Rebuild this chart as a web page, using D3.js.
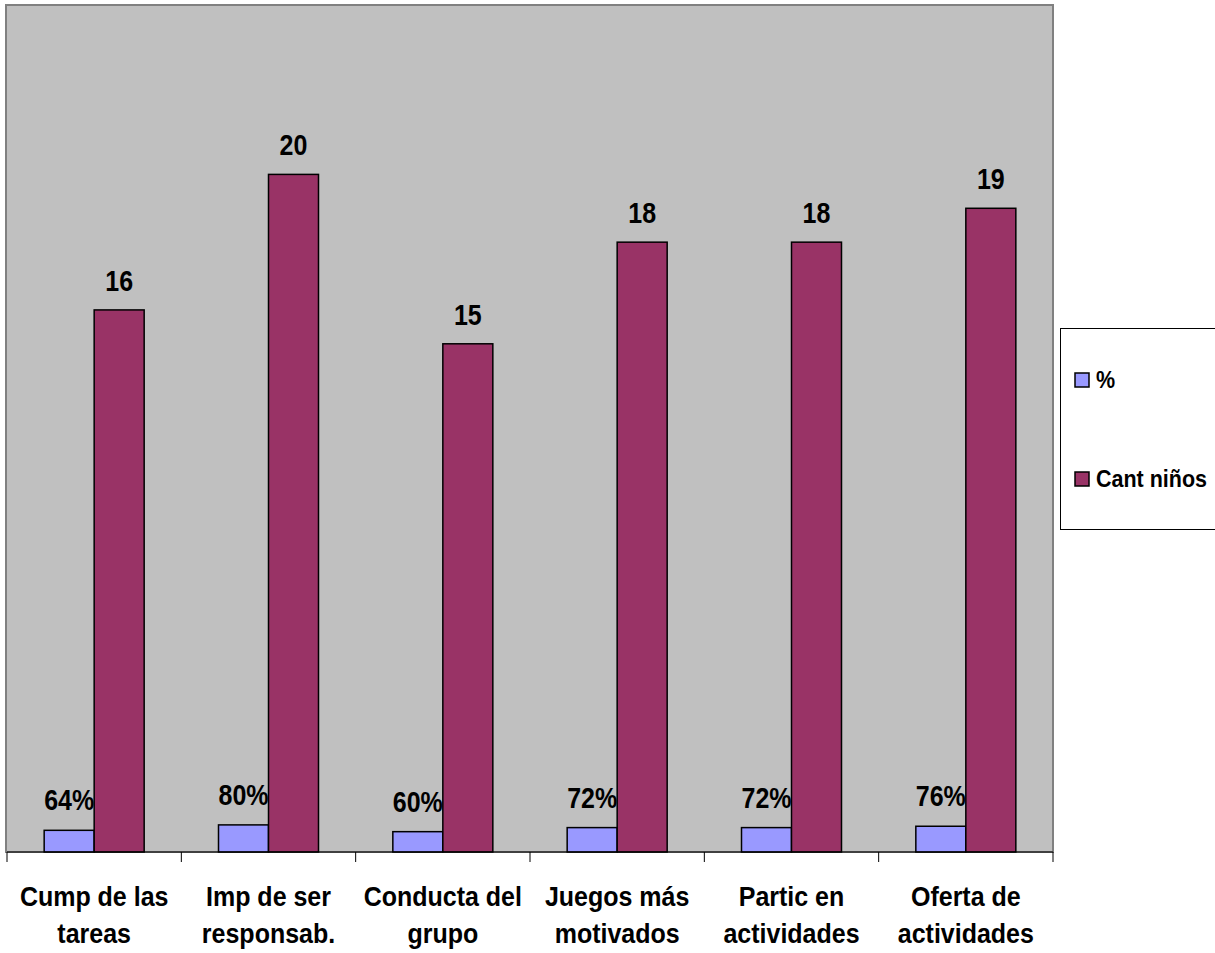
<!DOCTYPE html>
<html>
<head>
<meta charset="utf-8">
<script src="https://cdn.jsdelivr.net/npm/d3@7"></script>
<style>
  body { margin: 0; background: #fff; }
  text { font-family: "Liberation Sans", Arial, sans-serif; font-weight: bold; }
</style>
</head>
<body>
<div id="chart"></div>
<script>
// data
const categories = [
  ["Cump de las", "tareas"],
  ["Imp de ser", "responsab."],
  ["Conducta del", "grupo"],
  ["Juegos más", "motivados"],
  ["Partic en", "actividades"],
  ["Oferta de", "actividades"]
];
const pctValues = [0.64, 0.80, 0.60, 0.72, 0.72, 0.76];
const countValues = [16, 20, 15, 18, 18, 19];
const seriesNames = ["%", "Cant niños"];

const colorPct = "#9999FF";
const colorCount = "#993366";

const w = 1215, h = 953;
const plot = {left: 6, top: 5, right: 1053, bottom: 852};

const svg = d3.select("#chart")
  .append("svg")
  .attr("width", w)
  .attr("height", h);

// scales
const x = d3.scaleBand()
  .domain(d3.range(categories.length))
  .range([plot.left + 1, plot.right])
  .padding(0);

const y = d3.scaleLinear()
  .domain([0, 25])
  .range([plot.bottom, plot.top]);

const barW = 50;

// plot area
svg.append("rect")
  .attr("x", plot.left)
  .attr("y", plot.top)
  .attr("width", plot.right - plot.left)
  .attr("height", plot.bottom - plot.top)
  .attr("fill", "#C0C0C0")
  .attr("stroke", "#808080")
  .attr("stroke-width", 2);

// % bars
svg.append("g")
  .selectAll("rect")
  .data(pctValues)
  .join("rect")
    .attr("x", (d, i) => x(i) + x.bandwidth() / 2 - barW)
    .attr("y", d => y(d))
    .attr("width", barW)
    .attr("height", d => y(0) - y(d))
    .attr("fill", colorPct)
    .attr("stroke", "black")
    .attr("stroke-width", 1.5);

// count bars
svg.append("g")
  .selectAll("rect")
  .data(countValues)
  .join("rect")
    .attr("x", (d, i) => x(i) + x.bandwidth() / 2)
    .attr("y", d => y(d))
    .attr("width", barW)
    .attr("height", d => y(0) - y(d))
    .attr("fill", colorCount)
    .attr("stroke", "black")
    .attr("stroke-width", 1.5);

// value labels (text in the original is a bit stretched vertically)
svg.append("g")
  .selectAll("text")
  .data(pctValues)
  .join("text")
    .attr("transform", (d, i) => `translate(${x(i) + x.bandwidth() / 2 - barW / 2},${y(d) - 20}) scale(1,1.17)`)
    .attr("text-anchor", "middle")
    .style("font-size", "25px")
    .text(d => Math.round(d * 100) + "%");

svg.append("g")
  .selectAll("text")
  .data(countValues)
  .join("text")
    .attr("transform", (d, i) => `translate(${x(i) + x.bandwidth() / 2 + barW / 2},${y(d) - 19}) scale(1,1.17)`)
    .attr("text-anchor", "middle")
    .style("font-size", "25px")
    .text(d => d);

// x axis
const axisX = svg.append("g")
  .attr("transform", `translate(0,${plot.bottom})`);

axisX.append("line")
  .attr("x1", plot.left + 1)
  .attr("x2", plot.right)
  .attr("stroke", "black")
  .attr("stroke-width", 1);

axisX.selectAll(".tick")
  .data(d3.range(categories.length + 1))
  .join("line")
    .attr("class", "tick")
    .attr("x1", i => i < categories.length ? x(i) : plot.right)
    .attr("x2", i => i < categories.length ? x(i) : plot.right)
    .attr("y1", 0)
    .attr("y2", 10)
    .attr("stroke", "black");

// category labels (two lines)
const catLabels = svg.append("g")
  .selectAll("g")
  .data(categories)
  .join("g")
    .attr("transform", (d, i) => `translate(${x(i) + x.bandwidth() / 2},906) scale(1,1.08)`);

catLabels.selectAll("text")
  .data(d => d)
  .join("text")
    .attr("text-anchor", "middle")
    .attr("y", (d, j) => j * 34)
    .style("font-size", "25px")
    .text(d => d);

// legend
const legend = svg.append("g");
legend.append("rect")
  .attr("x", 1060.5)
  .attr("y", 328.5)
  .attr("width", 160)
  .attr("height", 201)
  .attr("fill", "white")
  .attr("stroke", "black")
  .attr("stroke-width", 1);

const legendItems = legend.selectAll("g")
  .data(seriesNames)
  .join("g")
    .attr("transform", (d, i) => `translate(1075,${373 + i * 99})`);

legendItems.append("rect")
  .attr("width", 14)
  .attr("height", 14)
  .attr("fill", (d, i) => i === 0 ? colorPct : colorCount)
  .attr("stroke", "black")
  .attr("stroke-width", 1.5);

legendItems.append("text")
  .attr("transform", "translate(21,15) scale(1,1.1)")
  .style("font-size", "21.5px")
  .text(d => d);
</script>
</body>
</html>
